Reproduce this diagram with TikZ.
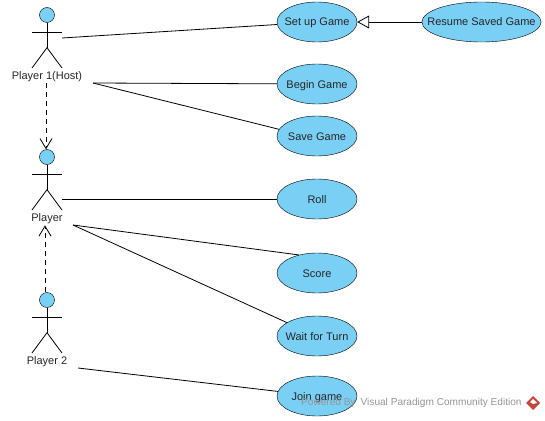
\documentclass[tikz,border=0pt]{standalone}
\usepackage{fontspec}
\setmainfont{Liberation Sans}
\usetikzlibrary{arrows.meta,shapes.geometric}
\definecolor{usecasefill}{HTML}{7ACFF5}
\definecolor{markgray}{HTML}{959595}
\definecolor{markred}{HTML}{C9453A}
\tikzset{
  usecase/.style={draw,ellipse,fill=usecasefill,inner xsep=-12pt,inner ysep=-5pt,text height=10pt,text depth=2pt,text=black!85,minimum width=80,minimum height=40},
  head/.style={draw,circle,fill=usecasefill,inner sep=0pt,minimum size=15},
  actorname/.style={inner sep=1pt,text=black!85},
  assoc/.style={line width=0.8pt},
  depend/.style={line width=0.8pt,dash pattern=on 5pt off 4pt,-{Straight Barb[length=10pt,width=12pt]}}
}
\begin{document}
\begin{tikzpicture}[x=1pt,y=-1pt,font=\fontsize{11}{13}\selectfont]

        \useasboundingbox (0,0) rectangle (545,420);

        % Actors: head, then body and name
        \foreach \nm/\y/\txt in {host/15/Player 1(Host),player/157/Player,guest/300/Player 2} {
            \node[head] (\nm) at (47,\y) {};
            \draw[assoc] (\nm.south) -- ++(0,25) coordinate (\nm hip);
            \draw[assoc] (32,\y+17) -- (62,\y+17);
            \draw[assoc] (32,\y+53) -- (\nm hip) -- (62,\y+53);
            \node[actorname] (\nm name) at (47,\y+62) {\txt};
        }

        % Use cases
        \node[usecase] (setup) at (317,22) {Set up Game};
        \node[usecase,minimum width=119] (resume) at (481.5,22) {Resume Saved Game};
        \node[usecase] (begin) at (317,84) {Begin Game};
        \node[usecase] (save) at (317,136) {Save Game};
        \node[usecase] (roll) at (317,199) {Roll};
        \node[usecase] (score) at (317,273) {Score};
        \node[usecase] (wait) at (317,336) {Wait for Turn};
        \node[usecase] (join) at (317,396) {Join game};

        % Free ends at the actors
        \coordinate (hostarm) at (62,38);
        \coordinate (hostfoot) at (93,83);
        \coordinate (playerarm) at (62,199);
        \coordinate (playerfoot) at (73,225);
        \coordinate (guestfoot) at (78,368);

        % Associations
        \draw[assoc] (hostarm) -- (setup);
        \draw[assoc] (hostfoot) -- (begin);
        \draw[assoc] (hostfoot) -- (save.170);
        \draw[assoc] (playerarm) -- (roll);
        \draw[assoc] (playerfoot) -- (score.135);
        \draw[assoc] (playerfoot) -- (wait.156);
        \draw[assoc] (guestfoot) -- (join);

        % Generalization and dependencies
        \draw[assoc,-{Triangle[open,fill=white,length=12pt,width=13pt]}] (resume) -- (setup);
        \draw[depend] ([xshift=-1pt]hostname.south) -- ([xshift=-1pt]player.north);
        \draw[depend] ([xshift=-2pt]guest.north) -- ([xshift=-2pt]playername.south);

        % Watermark
        \node[text=markgray,inner sep=0pt,anchor=west,font=\fontsize{10.1}{12}\selectfont] (mark) at (301,403) {Powered By\hspace{5pt}Visual Paradigm Community Edition};
        \path[fill=markred] (533,396) -- (540,403) -- (533,410) -- (526,403) -- cycle;
        \path[fill=white] (533,399) -- (537,403) -- (533,404) -- (530,402) -- cycle;
    \end{tikzpicture}
\end{document}
